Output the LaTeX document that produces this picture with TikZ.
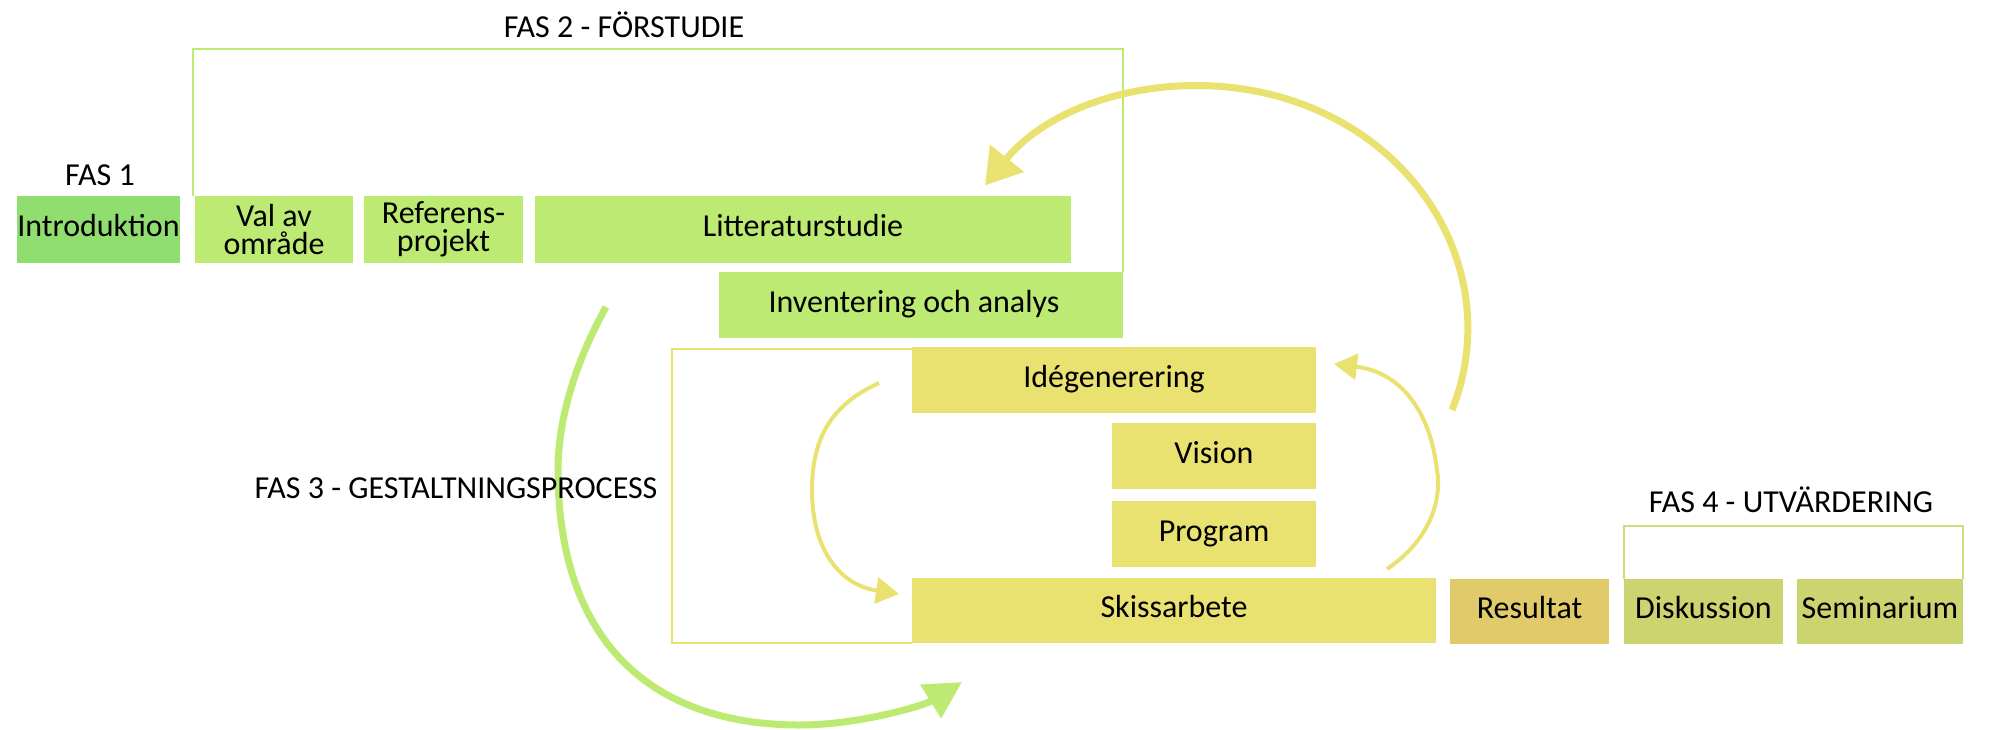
\documentclass[tikz,border=0pt]{standalone}
\usepackage{fontspec}
\setmainfont{Carlito}
\usetikzlibrary{arrows.meta}
\definecolor{cintro}{HTML}{8FDE6F}
\definecolor{cgreen}{HTML}{BDEA72}
\definecolor{cyellow}{HTML}{E9E270}
\definecolor{cresult}{HTML}{E0CA6A}
\definecolor{cdisk}{HTML}{CCD46F}
\definecolor{cdiskline}{HTML}{D3DA80}
\begin{document}
\begin{tikzpicture}[x=0.5pt,y=-0.5pt,
  boxone/.style={inner sep=0pt, outer sep=0pt, text=black,
    font=\fontsize{16pt}{19pt}\selectfont, text height=10pt, text depth=3pt},
  boxtwo/.style={inner sep=0pt, outer sep=0pt, text=black, align=center,
    font=\fontsize{16pt}{14.2pt}\selectfont},
  phasetitle/.style={inner sep=0pt, anchor=base, text=black,
    font=\fontsize{16pt}{19pt}\selectfont},
  frameline/.style={line width=1.2pt},
  greenarrow/.style={draw=cgreen, line width=3.5pt, -{Triangle[length=18.5pt,width=19pt]}},
  yellowarrow/.style={draw=cyellow, line width=3.5pt, -{Triangle[length=17.5pt,width=21pt]}},
  smallarrow/.style={draw=cyellow, line width=2pt, -{Triangle[length=11.5pt,width=13pt]}}]
\useasboundingbox (0,0) rectangle (1999,729);

% phase frames
\draw[frameline, cgreen] (193,196) |- (1123,49) -- (1123,272);
\draw[frameline, cyellow] (912,349) -- (672,349) -- (672,643) -- (912,643);
\draw[frameline, cdiskline] (1624,579) |- (1963,526) -- (1963,579);

% boxes
\node[boxone, fill=cintro, minimum width=81.5pt, minimum height=33.5pt] (intro) at (98.5,229.5) {Introduktion};
\node[boxtwo, fill=cgreen, minimum width=79pt, minimum height=33.5pt] (val) at (274,229.5) {Val av\\område};
\node[boxtwo, fill=cgreen, minimum width=79.5pt, minimum height=33.5pt] (ref) at (443.5,229.5) {Referens-\\projekt};
\node[boxone, fill=cgreen, minimum width=268pt, minimum height=33.5pt] (litt) at (803,229.5) {Litteraturstudie};
\node[boxone, fill=cgreen, minimum width=202pt, minimum height=33pt] (inv) at (921,305) {\hspace*{-7pt}Inventering och analys};
\node[boxone, fill=cyellow, minimum width=202pt, minimum height=33pt] (ide) at (1114,380) {Idégenerering};
\node[boxone, fill=cyellow, minimum width=102pt, minimum height=33pt] (vis) at (1214,456) {Vision};
\node[boxone, fill=cyellow, minimum width=102pt, minimum height=33pt] (prog) at (1214,534) {Program};
\node[boxone, fill=cyellow, minimum width=262pt, minimum height=32.5pt] (skiss) at (1174,610.5) {Skissarbete};
\node[boxone, fill=cresult, minimum width=79.5pt, minimum height=32.5pt] (res) at (1529.5,611.5) {Resultat};
\node[boxone, fill=cdisk, minimum width=79.5pt, minimum height=32.5pt] (disk) at (1703.5,611.5) {Diskussion};
\node[boxone, fill=cdisk, minimum width=83pt, minimum height=32.5pt] (sem) at (1880,611.5) {Seminarium};

% arrows
\coordinate (gstart) at (606,307);
\coordinate (gend) at (962,682);
\draw[greenarrow] (gstart) .. controls (582,350) and (558,410) .. (558,470)
  .. controls (558,640) and (650,725) .. (800,725)
  .. controls (860,725) and (925,705) .. (gend);

\coordinate (ystart) at (1452,410);
\draw[yellowarrow] (ystart) arc[start angle=19.8, end angle=-143.9, x radius=267, y radius=242];

\coordinate (rstart) at (1387,569);
\coordinate (rend) at (1334,364);
\draw[smallarrow] (rstart) .. controls (1430,540) and (1442,500) .. (1437,470)
  .. controls (1430,410) and (1400,372) .. (rend);

\coordinate (lstart) at (879,383);
\coordinate (lend) at (899,594);
\draw[smallarrow] (lstart) .. controls (830,405) and (812,440) .. (812,490)
  .. controls (812,550) and (840,585) .. (lend);

% titles
\node[phasetitle] (f1) at (100,185) {FAS 1};
\node[phasetitle] (f2) at (624,37) {FAS 2 - FÖRSTUDIE};
\node[phasetitle] (f3) at (456,498) {FAS 3 - GESTALTNINGSPROCESS};
\node[phasetitle] (f4) at (1791,512) {FAS 4 - UTVÄRDERING};
\end{tikzpicture}
\end{document}
